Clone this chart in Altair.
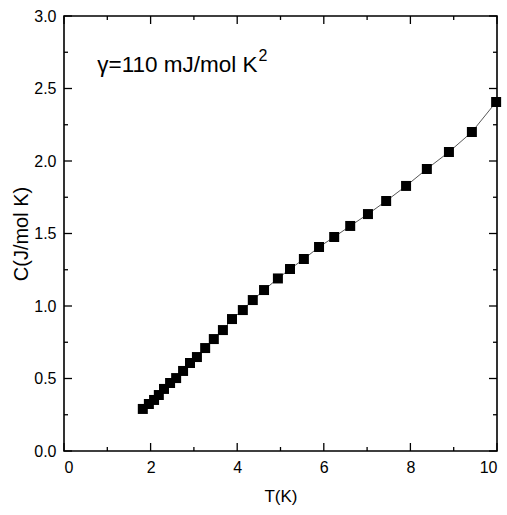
import altair as alt
import pandas as pd

T = [1.82, 1.96, 2.08, 2.19, 2.31, 2.45, 2.59, 2.75, 2.91, 3.07, 3.26, 3.46, 3.67, 3.88,
     4.13, 4.36, 4.62, 4.94, 5.22, 5.54, 5.89, 6.24, 6.61, 7.02, 7.44, 7.90, 8.38, 8.89,
     9.42, 9.98]
C = [0.29, 0.324, 0.352, 0.386, 0.428, 0.469, 0.503, 0.552, 0.607, 0.648, 0.710, 0.772,
     0.834, 0.91, 0.972, 1.041, 1.11, 1.19, 1.255, 1.324, 1.407, 1.476, 1.552, 1.634,
     1.724, 1.828, 1.945, 2.062, 2.2, 2.407]

x_major = [0, 2, 4, 6, 8, 10]
x_minor = [1, 3, 5, 7, 9]
y_major = [0.0, 0.5, 1.0, 1.5, 2.0, 2.5, 3.0]
y_minor = [0.25, 0.75, 1.25, 1.75, 2.25, 2.75]

annot_text = ["γ=110 mJ/mol K"]
annot_T = [0.77]
annot_C = [2.616]
sup_text = ["2"]
sup_T = [4.49]
sup_C = [2.69]

W, H = 433, 435
FONT = "Liberation Sans"

df = pd.DataFrame({"T": T, "C": C})
xs = alt.Scale(domain=[0, 10], nice=False, zero=False)
ys = alt.Scale(domain=[0, 3], nice=False, zero=False)

line = alt.Chart(df).mark_line(color="#444444", strokeWidth=0.9).encode(
    x=alt.X("T:Q", scale=xs, title="T(K)",
            axis=alt.Axis(values=x_major, format="d", ticks=False, domain=False, grid=False,
                          labelFont=FONT, labelFontSize=16, labelColor="black", labelPadding=8,
                          titleFont=FONT, titleFontSize=17, titleFontWeight="normal",
                          titleColor="black", titlePadding=13)),
    y=alt.Y("C:Q", scale=ys, title="C(J/mol K)",
            axis=alt.Axis(values=y_major, format=".1f", ticks=False, domain=False, grid=False,
                          labelFont=FONT, labelFontSize=16, labelColor="black", labelPadding=8,
                          titleFont=FONT, titleFontSize=20, titleFontWeight="normal",
                          titleColor="black", titlePadding=2)),
)
pts = alt.Chart(df).mark_square(color="black", size=100, opacity=1).encode(
    x=alt.X("T:Q"), y=alt.Y("C:Q")
)

def xticks(vals, length):
    d = pd.DataFrame({"T": vals})
    b = alt.Chart(d).mark_rule(color="black", strokeWidth=1.3).encode(
        x=alt.X("T:Q"), y=alt.value(H), y2=alt.value(H - length))
    t = alt.Chart(d).mark_rule(color="black", strokeWidth=1.3).encode(
        x=alt.X("T:Q"), y=alt.value(0), y2=alt.value(length))
    return [b, t]

def yticks(vals, length):
    d = pd.DataFrame({"C": vals})
    l = alt.Chart(d).mark_rule(color="black", strokeWidth=1.3).encode(
        y=alt.Y("C:Q"), x=alt.value(0), x2=alt.value(length))
    r = alt.Chart(d).mark_rule(color="black", strokeWidth=1.3).encode(
        y=alt.Y("C:Q"), x=alt.value(W), x2=alt.value(W - length))
    return [l, r]

annot = alt.Chart(pd.DataFrame({"t": annot_text, "T": annot_T, "C": annot_C})).mark_text(
    font=FONT, fontSize=22.5, align="left", baseline="alphabetic", color="black"
).encode(x="T:Q", y="C:Q", text="t:N")
sup = alt.Chart(pd.DataFrame({"t": sup_text, "T": sup_T, "C": sup_C})).mark_text(
    font=FONT, fontSize=16, align="left", baseline="alphabetic", color="black"
).encode(x="T:Q", y="C:Q", text="t:N")

chart = alt.layer(
    line, pts,
    *xticks(x_major, 8), *xticks(x_minor, 4),
    *yticks(y_major, 8), *yticks(y_minor, 4),
    annot, sup,
).properties(
    width=W, height=H, background="white",
    padding={"left": 64, "top": 16, "right": 10, "bottom": 64},
    autosize=alt.AutoSizeParams(type="none"),
).configure_view(stroke="black", strokeWidth=1.6)

chart.save("out.html", embed_options={"renderer": "svg", "actions": False})
